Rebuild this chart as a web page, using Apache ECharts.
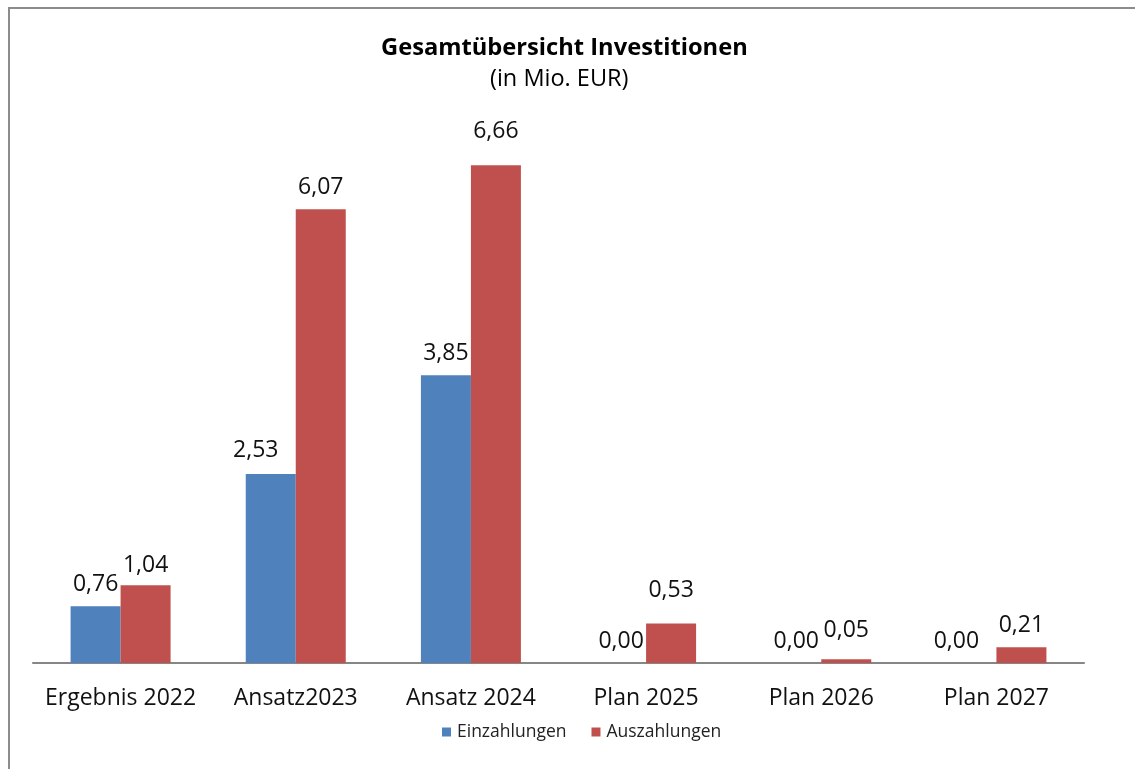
<!DOCTYPE html>
<html>
<head>
<meta charset="utf-8">
<script src="https://cdn.jsdelivr.net/npm/echarts@6/dist/echarts.min.js"></script>
<style>
html,body{margin:0;padding:0;background:#fff;}
#chart{width:1135px;height:769px;}
</style>
</head>
<body>
<div id="chart"></div>
<script>
const categories = ['Ergebnis 2022', 'Ansatz2023', 'Ansatz 2024', 'Plan 2025', 'Plan 2026', 'Plan 2027'];
const einzahlungen = [0.76, 2.53, 3.85, 0.00, 0.00, 0.00];
const auszahlungen = [1.04, 6.07, 6.66, 0.53, 0.05, 0.21];
const seriesNames = ['Einzahlungen', 'Auszahlungen'];
const titleText = 'Gesamtübersicht Investitionen';
const subtitleText = '(in Mio. EUR)';

const FONT = '"Open Sans", Lato, sans-serif';
// manual label nudges (as placed in the original chart)
const blueLabelOffsets = [[0,0],[-15,-2],[0,0],[0,0],[0,0],[-15,0]];
const redLabelOffsets  = [[0,2],[0,0],[0,-12],[0,-11],[0,-7],[0,0]];

function fmt(v){ return v.toFixed(2).replace('.', ','); }
function buildData(vals, offs){
  return vals.map((v,i)=>({value:v, label:{offset:offs[i]}}));
}

const chart = echarts.init(document.getElementById('chart'), null, {renderer:'canvas'});
chart.setOption({
  backgroundColor:'#ffffff',
  animation:false,
  title:[
    {text:titleText, left:376, top:31, textStyle:{fontFamily:FONT, fontSize:23.7, fontWeight:'bold', color:'#000'}},
    {text:subtitleText, left:485, top:62, textStyle:{fontFamily:FONT, fontSize:23.5, fontWeight:'normal', color:'#000'}}
  ],
  graphic:[
    {type:'polyline', shape:{points:[[9,780],[9,8],[1140,8]]}, style:{stroke:'#8c8c8c', lineWidth:2, fill:null}}
  ],
  legend:{
    data:seriesNames, bottom:23, left:437, itemWidth:9, itemHeight:9, itemGap:25, icon:'rect',
    textStyle:{fontFamily:FONT, fontSize:17.5, color:'#222', padding:[0,0,0,1]}
  },
  grid:{left:33, right:51, top:65, bottom:106, containLabel:false},
  xAxis:{
    type:'category', data:categories,
    axisLine:{lineStyle:{color:'#868686', width:2}},
    axisTick:{show:false},
    axisLabel:{fontFamily:FONT, fontSize:23, color:'#111', margin:24, interval:0}
  },
  yAxis:{type:'value', min:0, max:8, show:false, splitLine:{show:false}},
  series:[
    {name:seriesNames[0], type:'bar', data:buildData(einzahlungen, blueLabelOffsets), barWidth:50, barGap:'0%',
     itemStyle:{color:'#4F81BD'},
     label:{show:true, position:'top', distance:10, fontFamily:FONT, fontSize:23, color:'#111', formatter:p=>fmt(p.value)}},
    {name:seriesNames[1], type:'bar', data:buildData(auszahlungen, redLabelOffsets), barWidth:50, barGap:'0%',
     itemStyle:{color:'#C0504D'},
     label:{show:true, position:'top', distance:10, fontFamily:FONT, fontSize:23, color:'#111', formatter:p=>fmt(p.value)}}
  ]
});
</script>
</body>
</html>
